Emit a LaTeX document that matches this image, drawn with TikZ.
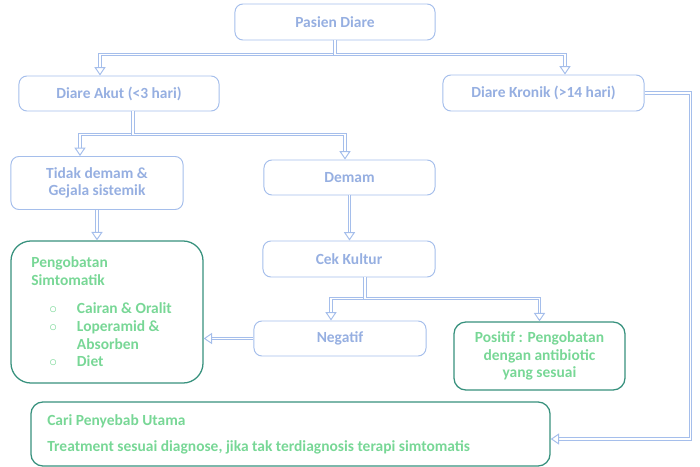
\documentclass[tikz,border=0pt]{standalone}
\usepackage{fontspec}
\setmainfont{Carlito}
\usetikzlibrary{arrows.meta,calc}
\definecolor{bordbleu}{RGB}{165,190,235}
\definecolor{textebleu}{RGB}{150,175,225}
\definecolor{bordvert}{RGB}{55,145,125}
\definecolor{textevert}{RGB}{120,215,150}
\begin{document}
\begin{tikzpicture}[x=0.025cm, y=-0.025cm]
\tikzset{boite/.style={draw=bordbleu, line width=0.7pt, rounded corners=0.2cm, text=textebleu, font=\fontsize{11}{12.5}\selectfont\bfseries, align=center, inner sep=0pt},
boiteverte/.style={draw=bordvert, line width=0.9pt, text=textevert, inner sep=0pt},
texteverte/.style={text=textevert, font=\fontsize{11}{12.5}\selectfont\bfseries, align=left, inner sep=0pt, anchor=north west},
fleche/.style={draw=bordbleu, line width=0.8pt, double=white, double distance=1.2pt, -{Triangle[open, length=6pt, width=8pt, line width=0.7pt]}}}
\useasboundingbox (0,0) rectangle (700,467);
\node[boite, minimum width=5cm, minimum height=0.9cm] (P) at (335,22) {Pasien Diare};
\node[boite, minimum width=5cm, minimum height=0.875cm] (A) at (119,93.5) {Diare Akut (<3 hari)};
\node[boite, minimum width=5.025cm, minimum height=0.9cm] (K) at (543.5,93) {Diare Kronik (>14 hari)};
\node[boite, minimum width=4.3cm, minimum height=1.325cm] (TD) at (97,183) {Tidak demam \&\\Gejala sistemik};
\node[boite, minimum width=4.275cm, minimum height=0.875cm] (D) at (349.5,177.5) {Demam};
\node[boite, minimum width=4.3cm, minimum height=0.9cm] (CK) at (349,259) {Cek Kultur};
\node[boite, minimum width=4.3cm, minimum height=0.875cm] (N) at (340,338.5) {Negatif};
\node[boiteverte, rounded corners=0.5cm, minimum width=4.8cm, minimum height=3.55cm] (S) at (107,312) {};
\node[texteverte] (ST) at (31,255) {\begin{tabular}{@{}l@{\hspace{0.5cm}}l@{}}
\multicolumn{2}{@{}l}{Pengobatan}\\
\multicolumn{2}{@{}l}{Simtomatik}\\[8pt]
\hspace{0.45cm}$\circ$ & Cairan \& Oralit\\
\hspace{0.45cm}$\circ$ & Loperamid \&\\
 & Absorben\\
\hspace{0.45cm}$\circ$ & Diet
\end{tabular}};
\node[boiteverte, rounded corners=0.3cm, minimum width=4.275cm, minimum height=1.7cm, font=\fontsize{11}{12.5}\selectfont\bfseries, align=center] (PO) at (539.5,356) {\raisebox{-4pt}{\parbox{4cm}{\centering Positif : Pengobatan\\dengan antibiotic\\yang sesuai}}};
\node[boiteverte, rounded corners=0.3cm, minimum width=12.975cm, minimum height=1.6cm] (C) at (290.5,434) {};
\node[texteverte] (CT) at (47,414) {Cari Penyebab Utama\\[6pt]Treatment sesuai diagnose, jika tak terdiagnosis terapi simtomatis};
\draw[fleche] (P.south) -- ++(0,14) -| ($(A.north)+(-19,0)$);
\draw[fleche] (P.south) -- ++(0,14) -| ($(K.north)+(21.5,0)$);
\draw[fleche] ($(A.south)+(14,0)$) -- ++(0,23) -| ($(TD.north)+(-17,0)$);
\draw[fleche] ($(A.south)+(14,0)$) -- ++(0,23) -| ($(D.north)+(-4.5,0)$);
\draw[fleche] (TD.south) -- (TD.south |- S.north);
\draw[fleche] (D.south) -- (D.south |- CK.north);
\draw[fleche] ($(CK.south)+(16,0)$) -- ++(0,21) -| ($(N.north)+(-9,0)$);
\draw[fleche] ($(CK.south)+(16,0)$) -- ++(0,21) -| (PO.north);
\draw[fleche] (N.west) -- (N.west -| S.east);
\draw[fleche] (K.east) -- ++(46,0) |- ($(C.east)+(0,5)$);
\end{tikzpicture}
\end{document}
